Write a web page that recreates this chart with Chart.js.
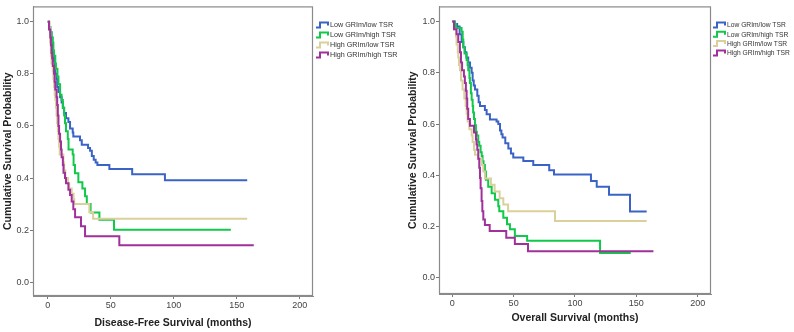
<!DOCTYPE html>
<html>
<head>
<meta charset="utf-8">
<script src="https://cdn.jsdelivr.net/npm/chart.js@4.4.1/dist/chart.umd.min.js"></script>
<style>
  html, body { margin: 0; padding: 0; background: #ffffff; }
  #wrap { position: relative; width: 794px; height: 332px; overflow: hidden; background: #fff; }
  #c1 { position: absolute; left: 0; top: 0; }
  #c2 { position: absolute; left: 400px; top: 0; }
</style>
</head>
<body>
<div id="wrap">
  <canvas id="c1" width="400" height="332"></canvas>
  <canvas id="c2" width="394" height="332"></canvas>
</div>
<script>
// ---------- labels ----------
const seriesNames = ["Low GRIm/low TSR", "Low GRIm/high TSR", "High GRIm/low TSR", "High GRIm/high TSR"];
const seriesColors = ["#3b63c6", "#12c84a", "#d9d09c", "#a0309a"];
const xTickValues = [0, 50, 100, 150, 200];
const yTickValues = [0, 0.2, 0.4, 0.6, 0.8, 1.0];
const dfsTitle = "Disease-Free Survival (months)";
const osTitle = "Overall Survival (months)";
const yTitle = "Cumulative Survival Probability";

// ---------- Disease-free survival (months, survival) ----------
const dfsLowLowT  = [0,1,2,3,3.5,4,5,5.5,6,7,7.5,8.5,9.8,11,12,13,14.5,16.4,17.7,19.8,20.3,25.6,27,32,33.6,35,36.5,38,39.4,48.9,67,93,158.3];
const dfsLowLowS  = [1,0.98,0.96,0.94,0.91,0.88,0.85,0.82,0.8,0.78,0.75,0.73,0.71,0.69,0.67,0.65,0.63,0.615,0.59,0.575,0.56,0.545,0.528,0.515,0.505,0.485,0.47,0.46,0.45,0.435,0.415,0.392,0.392];

const dfsLowHighT = [0,1,2,3,4,4.5,5,6,6.5,7.7,8.5,9.8,11,12,13,13.7,14.5,15.9,16.5,19.8,20.5,21.6,24.3,27.5,29.6,31,34,41,52.6,145.3];
const dfsLowHighS = [1,0.98,0.96,0.94,0.92,0.89,0.87,0.84,0.82,0.79,0.76,0.72,0.70,0.67,0.64,0.61,0.58,0.55,0.51,0.49,0.45,0.418,0.384,0.36,0.33,0.30,0.268,0.24,0.202,0.202];

const dfsHighLowT = [0,1.5,2,2.5,3,4,4.5,5,5.5,6,6.5,7,7.5,8,8.5,9,9.5,12.4,13,14,16,17,19,20.5,21,33,36,158.3];
const dfsHighLowS = [1,0.97,0.92,0.87,0.84,0.81,0.78,0.75,0.72,0.70,0.67,0.64,0.61,0.58,0.55,0.52,0.49,0.46,0.43,0.40,0.38,0.36,0.34,0.32,0.30,0.27,0.244,0.244];

const dfsHighHighT = [0,1,2,2.5,3,3.5,4,5,5.5,6,7,7.5,8,8.5,9,9.8,10.5,11,12,12.5,13.7,14.5,16.4,17.7,19,20.3,21.7,26.4,29.6,56.8,163.5];
const dfsHighHighS = [1,0.97,0.94,0.91,0.88,0.86,0.83,0.80,0.77,0.74,0.71,0.68,0.64,0.60,0.57,0.54,0.51,0.48,0.45,0.42,0.40,0.38,0.355,0.335,0.31,0.28,0.25,0.215,0.177,0.142,0.142];

// ---------- Overall survival (months, survival) ----------
const osLowLowT  = [0,2,4,6,7.6,9,10.3,11.5,13,14.5,15.8,16.6,17.5,18.5,20.4,21.5,22.6,26.6,28,30.7,36.1,37.5,38.9,40,41,43.2,45.7,47.8,49.7,57.9,66,79,82.9,113,117.7,127.7,144.8,158.4];
const osLowLowS  = [1,0.99,0.98,0.95,0.92,0.90,0.88,0.86,0.84,0.82,0.80,0.77,0.75,0.735,0.71,0.685,0.67,0.655,0.638,0.618,0.61,0.60,0.575,0.56,0.548,0.525,0.505,0.485,0.47,0.456,0.44,0.42,0.403,0.378,0.356,0.324,0.259,0.259];

const osLowHighT = [0,2,3,7.6,8.5,9,10,11.7,12.5,13,14,14.4,15.2,15.8,16.6,17,17.7,18.5,19.3,20,21.2,22,23.1,24,24.7,25.5,26.6,27.4,29.3,32.1,34.8,37.5,38.3,41.6,44.6,47,51,61,120.4,145.4];
const osLowHighS = [1,0.99,0.975,0.96,0.93,0.90,0.875,0.85,0.83,0.81,0.78,0.76,0.72,0.695,0.67,0.645,0.62,0.595,0.57,0.555,0.53,0.515,0.49,0.475,0.455,0.44,0.415,0.383,0.356,0.33,0.305,0.28,0.26,0.235,0.209,0.19,0.164,0.145,0.097,0.097];

const osHighLowT = [0,1.4,3,3.5,4.5,4.9,5.5,6.25,7.1,8.4,9.8,10.9,11.7,12.5,13.9,15.8,16.6,17.7,18.5,21.2,23.9,25.3,26.6,31.5,34.5,38.6,41.6,45.5,83.7,158.4];
const osHighLowS = [1,0.97,0.94,0.91,0.88,0.86,0.83,0.81,0.77,0.735,0.70,0.67,0.64,0.61,0.58,0.555,0.53,0.50,0.48,0.465,0.44,0.415,0.388,0.363,0.337,0.311,0.286,0.26,0.222,0.222];

const osHighHighT = [0,1.4,3.5,4.9,6.25,7.1,8,9.5,10.3,11.1,11.7,12.2,13,14.4,17.7,19.3,19.8,20.4,21.2,22,22.6,23.1,23.9,24.5,25.3,26.6,30.5,44,51,61.7,163.9];
const osHighHighS = [1,0.97,0.95,0.92,0.88,0.84,0.81,0.785,0.76,0.73,0.70,0.66,0.62,0.593,0.567,0.54,0.52,0.50,0.465,0.43,0.39,0.35,0.30,0.26,0.228,0.206,0.183,0.157,0.132,0.104,0.104];

// ---------- helpers ----------
function pts(t, s) { return t.map((v, i) => ({ x: v, y: s[i] })); }

const FONT = "'Liberation Sans', Arial, sans-serif";

const frameLegendPlugin = {
  id: 'frameLegend',
  afterDraw(chart, args, opts) {
    const ctx = chart.ctx;
    const a = chart.chartArea;
    ctx.save();
    ctx.strokeStyle = '#8a8a8a';
    ctx.lineWidth = 1.2;
    ctx.strokeRect(a.left + 0.5, a.top + 0.5, a.right - a.left - 1, a.bottom - a.top - 1);
    // legend
    chart.data.datasets.forEach((ds, i) => {
      const x0 = opts.x;
      const yc = opts.y + i * opts.dy;
      ctx.strokeStyle = ds.borderColor;
      ctx.lineWidth = 2;
      ctx.beginPath();
      ctx.moveTo(x0, yc + 2.5);
      ctx.lineTo(x0 + 4, yc + 2.5);
      ctx.lineTo(x0 + 4, yc - 2.5);
      ctx.lineTo(x0 + 12, yc - 2.5);
      ctx.lineTo(x0 + 12, yc + 0.5);
      ctx.stroke();
      ctx.fillStyle = '#333';
      ctx.font = opts.size + 'px ' + FONT;
      ctx.textBaseline = 'middle';
      ctx.textAlign = 'left';
      ctx.fillText(ds.label, x0 + 14, yc + 0.5);
    });
    ctx.restore();
  }
};

function makeChart(id, series, cfg) {
  const datasets = series.map((s, i) => ({
    label: seriesNames[i],
    data: pts(s[0], s[1]),
    borderColor: seriesColors[i],
    backgroundColor: seriesColors[i],
    borderWidth: 2,
    stepped: 'before',
    pointRadius: 0,
    fill: false,
    tension: 0,
    order: 3 - i
  }));
  return new Chart(document.getElementById(id), {
    type: 'line',
    data: { datasets },
    plugins: [frameLegendPlugin],
    options: {
      responsive: false,
      maintainAspectRatio: false,
      devicePixelRatio: 1,
      animation: false,
      layout: { padding: { top: cfg.top, right: cfg.right, left: 0, bottom: 0 } },
      plugins: {
        legend: { display: false },
        tooltip: { enabled: false },
        frameLegend: { x: cfg.legX, y: cfg.legY, dy: cfg.legDy, size: cfg.legSize }
      },
      scales: {
        x: {
          type: 'linear',
          min: cfg.xmin, max: cfg.xmax,
          afterBuildTicks: s => { s.ticks = xTickValues.map(v => ({ value: v })); },
          afterFit: s => { s.height = cfg.xh; },
          grid: { drawOnChartArea: false, drawTicks: true, tickLength: 3, color: '#777', tickWidth: 1 },
          border: { display: true, color: '#8a8a8a', width: 1 },
          ticks: { color: '#444', font: { family: FONT, size: 9 }, padding: 1, maxRotation: 0, autoSkip: false,
                   callback: v => String(v) },
          title: { display: true, text: cfg.xTitle, color: '#222',
                   font: { family: FONT, size: 10.5, weight: 'bold' }, padding: { top: 0, bottom: cfg.xtPad } }
        },
        y: {
          type: 'linear',
          min: cfg.ymin, max: cfg.ymax,
          afterBuildTicks: s => { s.ticks = yTickValues.map(v => ({ value: v })); },
          afterFit: s => { s.width = cfg.yw; },
          grid: { drawOnChartArea: false, drawTicks: true, tickLength: 3, color: '#777', tickWidth: 1 },
          border: { display: true, color: '#8a8a8a', width: 1 },
          ticks: { color: '#444', font: { family: FONT, size: 9 }, padding: 1, autoSkip: false,
                   callback: v => Number(v).toFixed(1) },
          title: { display: true, text: yTitle, color: '#222',
                   font: { family: FONT, size: 10.5, weight: 'bold' }, padding: { top: cfg.ytPad, bottom: 0 } }
        }
      }
    }
  });
}

makeChart('c1', [
  [dfsLowLowT, dfsLowLowS], [dfsLowHighT, dfsLowHighS], [dfsHighLowT, dfsHighLowS], [dfsHighHighT, dfsHighHighS]
], { xmin: -11.7, xmax: 210.5, ymin: -0.0528, ymax: 1.059, top: 1, right: 87, xh: 36, yw: 33,
     xTitle: dfsTitle, xtPad: 3, ytPad: 1.5, legX: 316, legY: 25, legDy: 10, legSize: 7.2 });

makeChart('c2', [
  [osLowLowT, osLowLowS], [osLowHighT, osLowHighS], [osHighLowT, osHighLowS], [osHighHighT, osHighHighS]
], { xmin: -10.8, xmax: 210.8, ymin: -0.0626, ymax: 1.0588, top: 2, right: 83, xh: 38, yw: 39,
     xTitle: osTitle, xtPad: 8, ytPad: 6.5, legX: 313, legY: 25, legDy: 9.3, legSize: 6.7 });
</script>
</body>
</html>
